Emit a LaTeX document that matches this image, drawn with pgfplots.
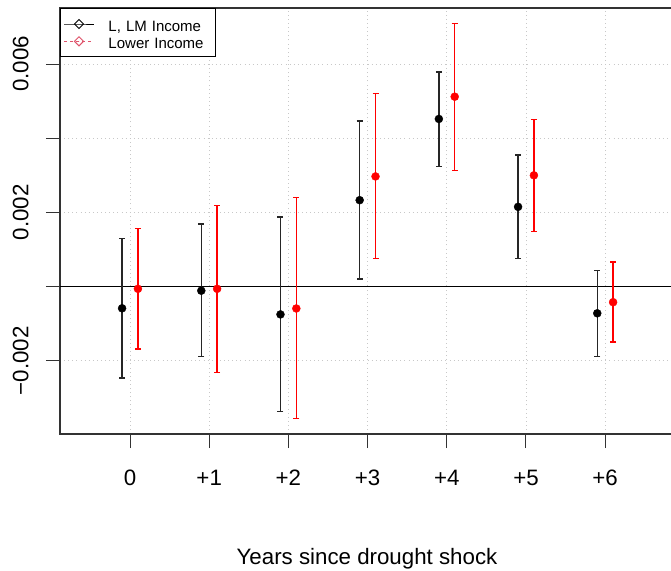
\documentclass[border=0pt]{standalone}
\usepackage{pgfplots}
\pgfplotsset{compat=1.18}
\usepackage{fontspec}
\setmainfont{Liberation Sans}
\definecolor{legred}{HTML}{DF536B}
\definecolor{ptred}{HTML}{FF0000}
\definecolor{gridgray}{HTML}{C8C8C8}
\begin{document}
\begin{tikzpicture}[x=1pt,y=1pt]
\useasboundingbox (0,0) rectangle (671,570);
\begin{axis}[
  at={(60pt,136pt)}, anchor=south west,
  scale only axis, width=614pt, height=426pt,
  xmin=-0.884, xmax=6.869,
  ymin=-0.003974, ymax=0.007511,
  scaled y ticks=false, scaled x ticks=false,
  axis line style={line width=1.3pt, color=black!80},
  xtick={0,1,2,3,4,5,6},
  xticklabels={0,+1,+2,+3,+4,+5,+6},
  ytick={-0.002,0,0.002,0.004,0.006},
  yticklabels={−0.002,,0.002,,0.006},
  xtick pos=bottom, ytick pos=left,
  tick align=outside, major tick length=14pt,
  tick style={line width=1pt, black!80},
  grid=major,
  major grid style={gridgray, line width=0.9pt, dash pattern=on 0.9pt off 3.2pt},
  ticklabel style={font=\fontsize{22.3}{26}\selectfont},
  xticklabel style={anchor=base, inner sep=0pt},
  xticklabel shift=37pt,
  yticklabel style={rotate=90, anchor=base, inner sep=0pt},
  yticklabel shift=17.7pt,
  xlabel={Years since drought shock},
  every axis x label/.style={at={(axis description cs:0.5,0)}, anchor=base, yshift=-130pt, font=\fontsize{22.3}{26}\selectfont},
  legend style={at={(rel axis cs:0,1)}, anchor=north west, draw=black, line width=1pt,
    fill=white,
    font=\fontsize{15}{17}\selectfont, inner xsep=3pt, inner ysep=8pt, row sep=2.3pt,
    column sep=0pt,
    /tikz/every odd column/.append style={column sep=14pt},
    nodes={inner sep=0pt, text height=14.5pt, text depth=0.5pt, text width=104pt, align=left}},
  legend cell align=left,
  legend image code/.code={\draw[mark repeat=2,mark phase=2,#1] plot coordinates {(0pt,0pt) (15pt,0pt) (30pt,0pt)};},
]
\addlegendimage{black, solid, line width=1pt, mark=square, mark size=3.2pt, mark options={rotate=45, solid, fill=white}}
\addlegendentry{L, LM Income}
\addlegendimage{legred, dashed, line width=1pt, mark=square, mark size=3.2pt, mark options={rotate=45, solid, fill=white}}
\addlegendentry{Lower Income}

\addplot[black, line width=1.2pt, forget plot] coordinates {(-0.884,0) (6.869,0)};

% L, LM Income (black)
\addplot[only marks, mark=*, mark size=4pt, black, forget plot,
  error bars/.cd, y dir=both, y explicit,
  error bar style={line width=1.4pt, black!85},
  error mark options={rotate=90, mark size=3pt, line width=1.4pt, black!85}]
coordinates {
(-0.1,-0.000585) += (0,0.001885) -= (0,0.001875)
(0.9,-0.00011) += (0,0.0018) -= (0,0.00178)
(1.9,-0.00075) += (0,0.00263) -= (0,0.00261)
(2.9,0.00233) += (0,0.00213) -= (0,0.00212)
(3.9,0.00452) += (0,0.00127) -= (0,0.00128)
(4.9,0.00215) += (0,0.0014) -= (0,0.0014)
(5.9,-0.00072) += (0,0.00116) -= (0,0.00117)
};

% Lower Income (red)
\addplot[only marks, mark=*, mark size=4pt, ptred, forget plot,
  error bars/.cd, y dir=both, y explicit,
  error bar style={line width=1.4pt, ptred},
  error mark options={rotate=90, mark size=3pt, line width=1.4pt, ptred}]
coordinates {
(0.1,-0.00006) += (0,0.00163) -= (0,0.00162)
(1.1,-0.00006) += (0,0.00225) -= (0,0.00225)
(2.1,-0.00059) += (0,0.003) -= (0,0.00297)
(3.1,0.00297) += (0,0.00223) -= (0,0.00222)
(4.1,0.00512) += (0,0.00197) -= (0,0.00199)
(5.1,0.003) += (0,0.0015) -= (0,0.00151)
(6.1,-0.00042) += (0,0.00108) -= (0,0.00107)
};
\end{axis}
\end{tikzpicture}
\end{document}
